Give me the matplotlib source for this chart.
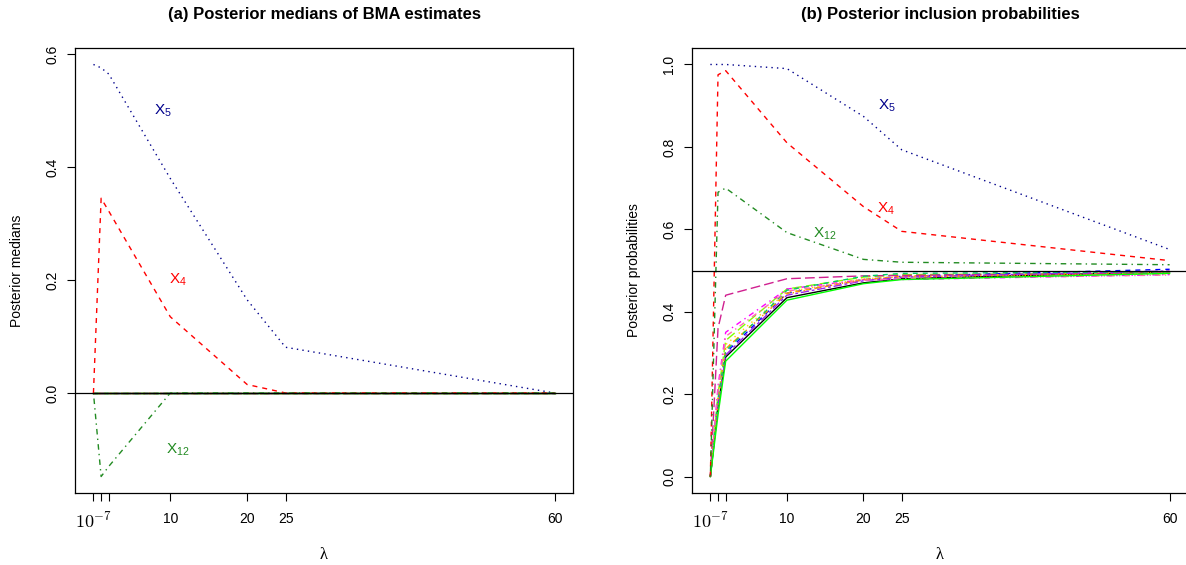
import matplotlib.pyplot as plt

plt.rcParams['font.family'] = ['Liberation Sans', 'DejaVu Sans']
plt.rcParams['mathtext.fontset'] = 'cm'

lam = [1e-7, 1, 2, 10, 20, 25, 60]
lam_labels = [r'$10^{-7}$', '', '', '10', '20', '25', '60']

# (a) posterior medians
med_x5 = [0.582, 0.576, 0.565, 0.380, 0.165, 0.081, 0.0]
med_x4 = [0.0, 0.345, 0.322, 0.135, 0.015, 0.0, 0.0]
med_x12 = [0.0, -0.148, -0.130, 0.0, 0.0, 0.0, 0.0]
med_other = [0.0, 0.0, 0.0, 0.0, 0.0, 0.0, 0.0]

# (b) posterior inclusion probabilities
pip_x5 = [1.0, 1.0, 1.0, 0.99, 0.874, 0.793, 0.551]
pip_x4 = [0.0, 0.975, 0.985, 0.81, 0.655, 0.595, 0.524]
pip_x12 = [0.0, 0.69, 0.70, 0.592, 0.527, 0.52, 0.514]
pip_other = [
    [0, 0.17, 0.290, 0.434, 0.470, 0.480, 0.497],
    [0, 0.20, 0.330, 0.455, 0.484, 0.490, 0.494],
    [0, 0.18, 0.300, 0.445, 0.478, 0.486, 0.503],
    [0, 0.22, 0.350, 0.455, 0.478, 0.478, 0.490],
    [0, 0.19, 0.320, 0.448, 0.480, 0.484, 0.495],
    [0, 0.18, 0.310, 0.445, 0.477, 0.486, 0.496],
    [0, 0.36, 0.440, 0.480, 0.487, 0.488, 0.494],
    [0, 0.17, 0.295, 0.440, 0.475, 0.484, 0.499],
    [0, 0.19, 0.305, 0.452, 0.486, 0.493, 0.497],
    [0, 0.21, 0.340, 0.450, 0.476, 0.480, 0.489],
    [0, 0.18, 0.310, 0.443, 0.479, 0.485, 0.492],
    [0, 0.15, 0.280, 0.428, 0.468, 0.478, 0.493],
]
other_colors = ['black', '#7FFF00', 'blue', '#FF00FF', '#FFD700', 'orange',
                '#D02090', '#A020F0', '#00CD66', '#FF69B4', 'darkorange', '#00FF00']

LTY = {
    'solid': '-',
    'dashed': (0, (3.6, 3.6)),
    'dotted': (0, (1, 3)),
    'dotdash': (0, (1, 3, 4, 3)),
    'longdash': (0, (7, 3)),
    'twodash': (0, (2, 2, 6, 2)),
}
other_lty = ['solid', 'longdash', 'dashed', 'dotdash', 'dotted', 'dashed',
             'longdash', 'twodash', 'dashed', 'dotdash', 'dotted', 'solid']

W, H = 1186, 565
fig = plt.figure(figsize=(W / 100, H / 100), dpi=100)
ax1 = fig.add_axes([75 / W, (H - 493) / H, 498 / W, 445 / H])
ax2 = fig.add_axes([692 / W, (H - 493) / H, 496 / W, 445 / H])


def r_limits(vals):
    lo, hi = min(vals), max(vals)
    pad = 0.04 * (hi - lo)
    return lo - pad, hi + pad


def style_axes(ax, yticks, ylabel, title):
    ax.set_xlim(*r_limits(lam))
    ax.set_xticks(lam)
    ax.set_xticklabels(lam_labels)
    ax.set_yticks(yticks)
    ax.set_yticklabels([f'{t:.1f}' for t in yticks], rotation=90, va='center')
    ax.tick_params(direction='out', length=5.5, width=0.8, labelsize=10, colors='black')
    ax.tick_params(axis='x', pad=8)
    ax.tick_params(axis='y', pad=6)
    ax.get_xticklabels()[0].set_fontsize(13)
    for s in ax.spines.values():
        s.set_linewidth(0.9)
    ax.set_ylabel(ylabel, fontsize=10, va='center')
    ax.yaxis.set_label_coords(-0.117, 0.5)
    ax.set_xlabel('λ', fontsize=12, va='center', family='Liberation Serif')
    ax.xaxis.set_label_coords(0.5, -0.139)
    ax.set_title(title, fontsize=12, fontweight='bold', pad=21)


# panel (a)
for col, lty in zip(other_colors, other_lty):
    ax1.plot(lam, med_other, color=col, linestyle=LTY[lty], lw=1.0)
ax1.plot(lam, med_x5, color='darkblue', linestyle=LTY['dotted'], lw=1.0)
ax1.plot(lam, med_x4, color='red', linestyle=LTY['dashed'], lw=1.0)
ax1.plot(lam, med_x12, color='forestgreen', linestyle=LTY['dotdash'], lw=1.0)
ax1.axhline(0, color='black', lw=0.9)
ax1.set_ylim(*r_limits(med_x5 + med_x4 + med_x12))
ax1.text(9, 0.5, r'$\mathregular{X_5}$', color='darkblue', fontsize=11, ha='center', va='center')
ax1.text(11, 0.2, r'$\mathregular{X_4}$', color='red', fontsize=11, ha='center', va='center')
ax1.text(11, -0.1, r'$\mathregular{X_{12}}$', color='forestgreen', fontsize=11, ha='center', va='center')
style_axes(ax1, [0.0, 0.2, 0.4, 0.6], 'Posterior medians', '(a) Posterior medians of BMA estimates')

# panel (b)
for vals, col, lty in zip(pip_other, other_colors, other_lty):
    ax2.plot(lam, vals, color=col, linestyle=LTY[lty], lw=1.0)
ax2.plot(lam, pip_x5, color='darkblue', linestyle=LTY['dotted'], lw=1.0)
ax2.plot(lam, pip_x4, color='red', linestyle=LTY['dashed'], lw=1.0)
ax2.plot(lam, pip_x12, color='forestgreen', linestyle=LTY['dotdash'], lw=1.0)
ax2.axhline(0.5, color='black', lw=0.9)
ax2.set_ylim(*r_limits(pip_x5 + pip_x4 + pip_x12))
ax2.text(23, 0.9, r'$\mathregular{X_5}$', color='darkblue', fontsize=11, ha='center', va='center')
ax2.text(23, 0.65, r'$\mathregular{X_4}$', color='red', fontsize=11, ha='center', va='center')
ax2.text(15, 0.59, r'$\mathregular{X_{12}}$', color='forestgreen', fontsize=11, ha='center', va='center')
style_axes(ax2, [0.0, 0.2, 0.4, 0.6, 0.8, 1.0], 'Posterior probabilities', '(b) Posterior inclusion probabilities')

fig.savefig('out.png', dpi=100)
